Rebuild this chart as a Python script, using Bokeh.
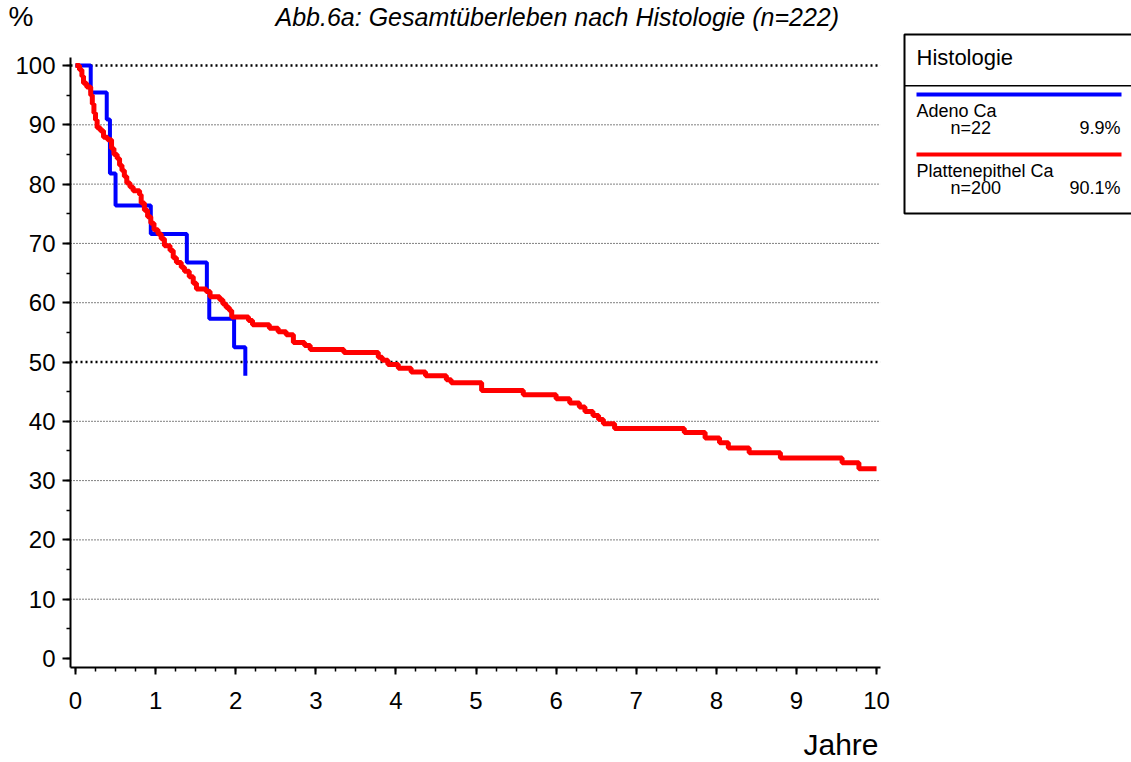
from bokeh.plotting import figure
from bokeh.layouts import column
from bokeh.models import Range1d, SingleIntervalTicker, FixedTicker, LinearAxis, Label, BoxAnnotation
from bokeh.embed import file_html
from bokeh.resources import INLINE

# ---- data ----
adeno_t = [0.0, 0.19, 0.39, 0.43, 0.50, 0.94, 1.39, 1.64, 1.67, 1.98, 2.12]
adeno_s = [100.0, 95.45, 90.9, 81.8, 76.4, 71.6, 66.8, 62.0, 57.3, 52.5, 47.7]

platte_t = [0.00, 0.05, 0.08, 0.10, 0.14, 0.19, 0.21, 0.23, 0.25, 0.27, 0.31, 0.35, 0.40,
            0.45, 0.48, 0.52, 0.55, 0.58, 0.61, 0.64, 0.68, 0.72, 0.80, 0.82, 0.86, 0.90,
            0.94, 0.98, 1.03, 1.07, 1.11, 1.18, 1.22, 1.26, 1.32, 1.36, 1.42, 1.47, 1.51,
            1.63, 1.68, 1.80, 1.84, 1.88, 1.92, 1.95, 2.16, 2.21, 2.42, 2.53, 2.63, 2.72,
            2.86, 2.93, 3.35, 3.78, 3.83, 3.90, 4.03, 4.19, 4.37, 4.63, 4.69, 5.07, 5.59,
            6.00, 6.17, 6.29, 6.36, 6.46, 6.53, 6.59, 6.73, 7.60, 7.86, 8.04, 8.15, 8.41,
            8.80, 9.57, 9.78, 10.00]
platte_s = [100.0, 99.3, 98.2, 97.0, 96.4, 95.0, 93.5, 92.0, 90.8, 89.5, 89.0, 87.9, 87.5,
            86.0, 85.0, 84.3, 83.2, 82.3, 81.3, 80.2, 79.5, 78.9, 78.2, 76.8, 75.6, 74.5,
            73.4, 72.3, 71.6, 70.8, 69.6, 68.8, 67.6, 66.8, 66.0, 65.3, 64.4, 63.3, 62.3,
            61.9, 61.0, 60.5, 59.8, 59.2, 58.7, 57.6, 57.0, 56.3, 55.7, 55.1, 54.6, 53.3,
            52.8, 52.1, 51.6, 50.8, 50.3, 49.6, 48.95, 48.3, 47.7, 47.0, 46.5, 45.2, 44.5,
            43.8, 43.1, 42.4, 41.65, 41.0, 40.3, 39.6, 38.8, 38.1, 37.2, 36.4, 35.5, 34.7,
            33.8, 33.0, 32.0, 32.0]

y_grid_thin = [10, 20, 30, 40, 60, 70, 80, 90]
y_grid_bold = [50, 100]

title_text = "Abb.6a: Gesamtüberleben nach Histologie (n=222)"
y_unit = "%"
x_label = "Jahre"
legend_title = "Histologie"
groups = ["Adeno Ca", "Plattenepithel Ca"]
group_n = ["n=22", "n=200"]
group_pct = ["9.9%", "90.1%"]
group_colors = ["#0000ff", "#ff0000"]

FONT = "Liberation Sans"
W = 1131
LEFT = 70          # width of the left panel (y axis)
HEAD_H = 32
MAIN_H = 686
FOOT_H = 42
BASE_FIX = 7       # Label baseline correction in px

X_AX = (-0.0624, 10.05)
Y_AX = (-1.518, 101.35)


def blank(h, y_top):
    f = figure(width=W, height=h, x_range=Range1d(LEFT, W), y_range=Range1d(y_top + h, y_top),
               x_axis_type=None, y_axis_type=None, output_backend="svg", toolbar_location=None,
               title=None, min_border=0, min_border_left=LEFT, min_border_right=0,
               min_border_top=0, min_border_bottom=0)
    f.outline_line_color = None
    f.grid.visible = False
    return f


def label(f, text, x, y, size, align="left", style="normal", units="data", fix=True):
    yy = y - BASE_FIX if (fix and units == "data") else (y + BASE_FIX if fix else y)
    f.add_layout(Label(x=x, y=yy, x_units=units, y_units=units, text=text,
                       text_font=FONT, text_font_size=size, text_font_style=style,
                       text_align=align, text_baseline="alphabetic", text_color="black"))


# ---- header: "%" as the only tick label of a bare axis, title as a label ----
head = blank(HEAD_H, 0)
pct_axis = LinearAxis(ticker=FixedTicker(ticks=[17.5]), major_label_overrides={17.5: y_unit},
                      axis_line_color=None, major_tick_line_color=None,
                      minor_tick_line_color=None, major_tick_out=0, major_tick_in=0,
                      major_label_standoff=37, major_label_text_font=FONT,
                      major_label_text_font_size="28px", major_label_text_color="black")
head.add_layout(pct_axis, "left")
label(head, title_text, 275, 23, "25px", style="italic")

# ---- main plot ----
p = figure(width=W, height=MAIN_H,
           x_range=Range1d(-0.0624, 13.183), y_range=Range1d(-1.518, 105.57),
           output_backend="svg", toolbar_location=None, title=None,
           min_border_left=LEFT, min_border_right=0, min_border_top=0, min_border_bottom=51)
p.outline_line_color = None
p.grid.visible = False

for ax in (p.xaxis[0], p.yaxis[0]):
    ax.axis_line_color = "black"
    ax.axis_line_width = 2
    ax.major_tick_line_color = "black"
    ax.major_tick_line_width = 2
    ax.minor_tick_line_color = "black"
    ax.minor_tick_line_width = 1.5
    ax.major_tick_in = 0
    ax.minor_tick_in = 0
    ax.minor_tick_out = 4
    ax.major_label_text_font = FONT
    ax.major_label_text_font_size = "24px"
    ax.major_label_text_color = "black"

p.xaxis.bounds = X_AX
p.yaxis.bounds = Y_AX
p.xaxis.ticker = SingleIntervalTicker(interval=1, num_minor_ticks=4)
p.xaxis.major_tick_out = 7
p.xaxis.major_label_standoff = 17
p.yaxis.ticker = SingleIntervalTicker(interval=10, num_minor_ticks=2)
p.yaxis.major_tick_out = 8
p.yaxis.major_label_standoff = 7

# horizontal grid lines (stopping at the axis end)
p.segment(x0=[X_AX[0]] * len(y_grid_thin), x1=[X_AX[1]] * len(y_grid_thin),
          y0=y_grid_thin, y1=y_grid_thin, line_color="black", line_width=1, line_dash="1 2")
p.segment(x0=[X_AX[0]] * len(y_grid_bold), x1=[X_AX[1]] * len(y_grid_bold),
          y0=y_grid_bold, y1=y_grid_bold, line_color="black", line_width=2.5, line_dash="2 3")

# survival curves
p.step(adeno_t, adeno_s, mode="after", line_color=group_colors[0], line_width=4)
p.step(platte_t, platte_s, mode="after", line_color=group_colors[1], line_width=5)


# legend (screen units relative to the frame: origin at image x=70, y=667)
def sx(ix):
    return ix - LEFT


def sy(iy):
    return 667 - iy


def box(l, r, t, b, fill, line=None, lw=0):
    p.add_layout(BoxAnnotation(left=sx(l), right=sx(r), top=sy(t), bottom=sy(b),
                               left_units="screen", right_units="screen",
                               top_units="screen", bottom_units="screen",
                               fill_color=fill, fill_alpha=1,
                               line_color=line if line else fill,
                               line_alpha=1 if line else 0, line_width=lw if lw else 1))


def slabel(text, ix, iy, size, align="left"):
    label(p, text, sx(ix), sy(iy), size, align=align, units="screen")


box(904, 1150, 34, 213, "white", "black", 2)
box(904, 1150, 84.5, 86, "black")
slabel(legend_title, 916, 64, "22px")
rows_y = [94, 154]
for i in range(2):
    y0 = rows_y[i]
    box(916, 1121, y0 - 2, y0 + 2, group_colors[i])
    slabel(groups[i], 916, y0 + 23, "18px")
    slabel(group_n[i], 950, y0 + 40, "18px")
    slabel(group_pct[i], 1120, y0 + 40, "18px", align="right")

# ---- footer ----
foot = blank(FOOT_H, HEAD_H + MAIN_H)
label(foot, x_label, 878, 751, "30px", align="right")

layout = column(head, p, foot, spacing=0)
open("out.html", "w").write(file_html(layout, INLINE))
